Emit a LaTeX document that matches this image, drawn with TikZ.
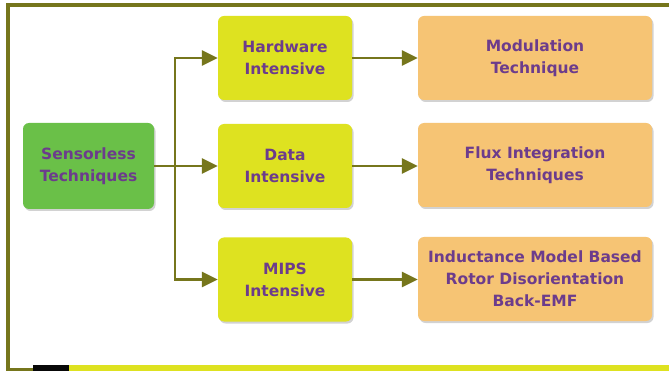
\documentclass[tikz,border=0pt]{standalone}
\usepackage{fontspec}
\setmainfont{DejaVu Sans}
\usetikzlibrary{arrows.meta, positioning, shadows}
\definecolor{olive}{RGB}{118,118,28}
\definecolor{boxgreen}{RGB}{106,192,72}
\definecolor{boxyellow}{RGB}{222,226,32}
\definecolor{boxorange}{RGB}{246,196,116}
\definecolor{txtpurple}{RGB}{108,60,140}
\definecolor{barblack}{RGB}{8,8,8}

\tikzset{
  block/.style={rounded corners=6pt, align=center, text=txtpurple,
    font=\bfseries\fontsize{15.5}{22}\selectfont,
    drop shadow={opacity=0.35, shadow xshift=1.5pt, shadow yshift=-2pt}},
  source/.style={block, fill=boxgreen, minimum width=131pt, minimum height=86pt},
  kind/.style={block, fill=boxyellow, minimum width=134pt, minimum height=84pt},
  method/.style={block, fill=boxorange, minimum width=234pt, minimum height=84pt},
  flow/.style={olive, line width=2.8pt, -{Triangle[length=16pt, width=15pt]}}
}

\begin{document}
\begin{tikzpicture}[x=1pt, y=-1pt]
  \useasboundingbox (0,0) rectangle (669,371);
  \fill[white] (0,0) rectangle (669,371);

  % frame
  \draw[olive, line width=3.5pt] (6,5) -- (669,5);
  \draw[olive, line width=3.5pt] (8,5) -- (8,371);
  \fill[olive] (6,368) rectangle (33,371);
  \fill[barblack] (33,365) rectangle (69,371);
  \fill[boxyellow] (69,365) rectangle (669,371);

  % boxes
  \node[source] (sensorless) at (88.5,166) {Sensorless\\Techniques};

  \node[kind] (hardware) at (285,58) {Hardware\\Intensive};
  \node[kind] (data) at (285,166) {Data\\Intensive};
  \node[kind] (mips) at (285,279.5) {MIPS\\Intensive};

  \node[method] (modulation) at (535,58) {Modulation\\Technique};
  \node[method] (flux) at (535,165) {Flux Integration\\Techniques};
  \node[method] (inductance) at (535,279) {Inductance Model Based\\Rotor Disorientation\\Back-EMF};

  % connectors
  \coordinate (split) at (175,166);
  \draw[flow] (sensorless.east) -- (data.west);
  \draw[flow] (split) |- (hardware.west);
  \draw[flow] (split) |- (mips.west);

  \draw[flow] (hardware.east) -- (modulation.west);
  \draw[flow] (data.east) -- (data.east -| flux.west);
  \draw[flow] (mips.east) -- (mips.east -| inductance.west);
\end{tikzpicture}
\end{document}
